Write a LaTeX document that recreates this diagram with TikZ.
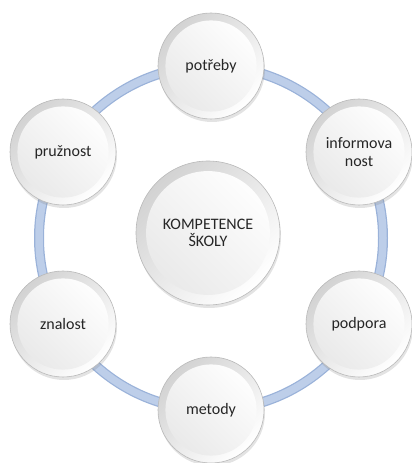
\documentclass[tikz,border=0pt]{standalone}
\usepackage{fontspec}
\setmainfont{Carlito}
\usetikzlibrary{shadows}
\definecolor{prstenec}{HTML}{BDCEE9}
\definecolor{prstenecokraj}{HTML}{9AB2D9}
\definecolor{textkruhu}{HTML}{262626}
\tikzset{
	kruh/.style={circle,minimum size=2*#1,inner sep=0pt,draw=gray!55,line width=0.6pt,
		top color=gray!35,bottom color=white,shading angle=45,
		drop shadow={shadow xshift=1pt,shadow yshift=-3pt,opacity=0.22},
		align=center,text=textkruhu,font=\fontsize{16}{17.5}\selectfont,
		path picture={\shade[top color=white,bottom color=gray!18,shading angle=-45]
			(path picture bounding box.center) circle (0.86*#1);}}
}

\begin{document}
\begin{tikzpicture}[line cap=round,line join=round,x=1pt,y=1pt]
			\useasboundingbox (0,0) rectangle (412,463);
			\coordinate (stred) at (211,225);
			% prstenec
			\draw [line width=10pt,prstenecokraj] (stred) circle (172);
			\draw [line width=7.5pt,prstenec] (stred) circle (172);
			% kruhy
			\node [kruh=72] (kompetence) at (208,230) {KOMPETENCE\\ŠKOLY};
			\node [kruh=53] (potreby) at (211,397) {potřeby};
			\node [kruh=53] (informovanost) at (359,311) {informova\\nost};
			\node [kruh=53] (podpora) at (359,139) {podpora};
			\node [kruh=53] (metody) at (211,53) {metody};
			\node [kruh=53] (znalost) at (63,139) {znalost};
			\node [kruh=53] (pruznost) at (63,311) {pružnost};
		\end{tikzpicture}
\end{document}
